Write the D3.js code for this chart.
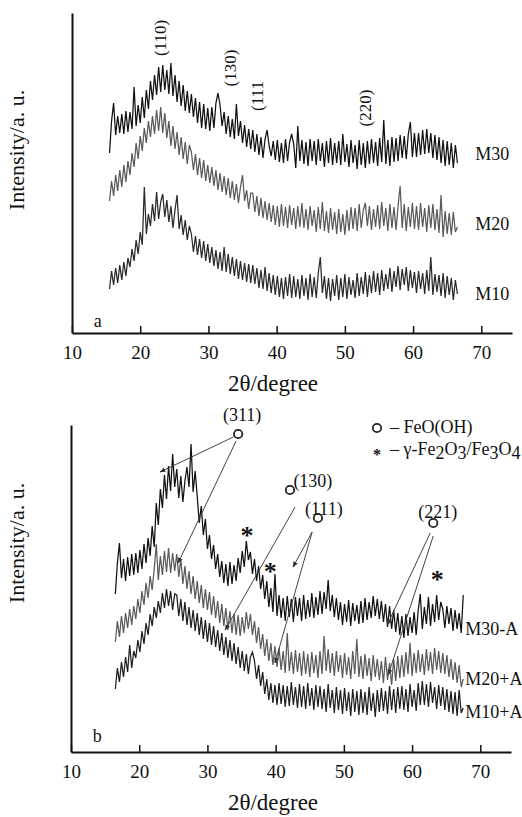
<!DOCTYPE html>
<html lang="en">
<head>
<meta charset="utf-8">
<title>XRD patterns a / b</title>
<script src="https://cdn.jsdelivr.net/npm/d3@7"></script>
<style>
body { margin: 0; background: #fff; }
svg text { fill: #111; }
.curve { fill: none; stroke-width: 1.25; stroke-linejoin: miter; }
.axis path { stroke: #111; stroke-width: 2; }
.axis line { stroke: #111; stroke-width: 1.5; }
.pointer { stroke: #444; stroke-width: 1; fill: none; }
</style>
</head>
<body>
<svg id="chart" width="522" height="817"></svg>
<script>
var FONT = '"Liberation Serif", "DejaVu Serif", "Noto Serif", "Times New Roman", Times, serif';

// ---- data (2theta grid: start + 0.3 deg steps) ----
var step = 0.3;
var startA = 15.5, startB = 16.5;
var xTicks = [10, 20, 30, 40, 50, 60, 70];

// panel a
var m30 = [
  180,212,230,198,217,200,219,199,222,201,
  221,204,246,207,228,210,236,215,243,224,
  252,233,258,238,266,241,268,243,263,239,
  270,237,258,231,252,227,248,222,242,220,
  239,216,235,210,231,205,229,204,225,202,
  226,205,230,240,228,207,221,199,217,196,
  214,194,229,197,212,190,208,186,204,184,
  203,181,199,178,196,175,194,203,187,177,
  192,173,193,171,190,170,194,172,191,199,
  189,165,207,172,193,169,191,167,194,172,
  192,168,194,172,190,166,192,170,195,168,
  190,170,192,168,199,171,189,166,193,170,
  188,164,193,168,190,165,192,169,194,170,
  191,167,195,171,213,169,193,167,196,171,
  195,172,198,175,197,174,199,211,176,200,
  176,200,178,203,179,204,180,200,175,198,
  173,196,170,193,167,192,168,190,165,188,
  170];
var m20 = [
  132,152,137,158,142,163,146,168,151,172,
  158,180,166,190,174,197,182,205,190,212,
  196,217,199,223,202,226,200,220,195,212,
  187,207,184,201,178,196,174,191,169,188,
  181,163,179,158,175,155,173,152,168,150,
  166,147,163,143,160,141,157,138,155,135,
  152,133,149,130,146,158,132,143,124,140,
  140,121,137,117,135,115,132,113,130,111,
  128,108,127,106,129,107,126,105,128,108,
  125,104,127,106,130,105,124,103,127,107,
  123,101,126,104,131,102,122,100,125,103,
  121,99,124,101,119,98,123,102,126,104,
  125,102,129,105,123,130,107,127,103,124,
  106,128,104,131,107,125,102,129,105,126,
  103,127,147,105,129,102,126,106,130,104,
  127,103,130,106,125,101,128,105,129,103,
  124,100,138,96,122,99,120,98,121,101,
  106];
var m10 = [
  44,62,48,65,50,68,53,71,57,75,
  66,84,72,93,79,101,88,146,99,119,
  107,129,112,141,114,131,139,116,133,111,
  127,105,123,138,104,118,98,113,93,107,
  99,81,97,78,94,75,92,72,89,70,
  86,67,83,64,81,62,86,61,79,59,
  76,57,74,54,72,53,70,51,69,50,
  68,49,65,45,63,44,66,42,60,40,
  58,38,57,36,55,34,56,37,59,35,
  57,36,54,34,58,37,55,33,59,36,
  56,35,60,76,40,57,34,55,32,54,
  37,58,33,55,36,59,34,56,38,53,
  35,60,37,56,39,61,36,58,40,62,
  41,60,38,63,42,59,44,65,41,62,
  46,67,43,64,48,66,42,63,45,61,
  40,62,44,60,39,63,42,76,38,59,
  41,58,37,60,35,57,38,55,33,53,
  39];

// panel b
var m30A = [
  158,189,209,174,193,171,195,176,198,177,
  199,179,202,183,208,189,214,196,226,205,
  249,227,263,244,277,253,286,261,298,265,
  283,254,276,250,271,285,265,308,260,281,
  256,229,246,217,233,203,217,193,207,183,
  198,175,191,169,188,166,190,168,187,171,
  194,179,201,185,211,192,200,178,193,171,
  186,163,177,153,171,145,164,140,178,136,
  157,134,154,131,156,135,153,130,155,136,
  154,131,157,133,152,135,159,134,155,137,
  161,138,160,143,172,141,157,135,154,132,
  150,127,148,130,152,126,149,131,147,128,
  151,129,154,132,150,134,156,136,153,133,
  151,130,148,125,146,123,142,120,139,117,
  136,114,138,116,135,119,140,117,142,158,
  123,145,128,155,126,148,130,157,132,150,
  143,124,146,128,144,121,142,123,139,119,
  157];
var m20A = [
  110,131,115,136,119,139,124,143,127,146,
  133,153,139,161,147,169,154,176,162,183,
  208,172,196,177,201,180,204,179,199,181,
  198,175,193,168,186,163,181,158,176,153,
  171,149,167,144,163,142,160,137,156,134,
  151,129,148,126,144,122,141,119,138,117,
  137,116,135,119,140,123,138,117,131,109,
  125,103,118,96,113,91,109,87,106,85,
  104,82,101,79,119,81,100,78,102,80,
  99,76,101,78,98,75,100,79,97,74,
  101,78,116,81,103,79,99,76,101,80,
  97,74,99,77,95,73,101,78,113,75,
  96,73,98,76,94,71,97,75,93,72,
  91,69,95,72,89,67,93,71,96,74,
  97,75,100,78,109,76,99,79,102,80,
  98,77,103,81,100,78,104,82,101,79,
  99,78,97,75,93,72,90,69,87,65,
  73];
var m10A = [
  63,84,70,90,75,95,80,107,84,101,
  94,112,100,121,108,129,117,138,126,145,
  134,151,139,159,144,163,146,161,142,158,
  157,136,153,131,150,127,145,124,142,121,
  139,117,135,113,132,110,129,107,126,105,
  122,101,119,97,115,94,112,91,109,88,
  105,84,101,81,98,78,95,100,91,73,
  87,66,80,58,73,52,69,49,67,47,
  69,48,67,45,66,46,70,47,65,44,
  68,45,66,43,69,46,64,42,67,45,
  66,43,63,40,68,44,62,39,65,42,
  62,38,64,41,60,36,63,40,61,37,
  63,39,60,37,65,41,59,35,62,40,
  64,41,61,38,66,42,63,39,65,43,
  66,42,63,40,68,45,62,41,69,47,
  71,47,68,45,70,49,65,43,67,46,
  65,42,63,40,61,38,60,36,62,39,
  44];

// peak labels, panel a (2theta, intensity)
var peaksA = [
  {t: "(110)", x: 22.9, y: 295},
  {t: "(130)", x: 33.2, y: 265},
  {t: "(111", x: 37.1, y: 237},
  {t: "(220)", x: 53.0, y: 225}
];
// panel b: FeO(OH) circles, hkl labels, pointers, spinel stars
var circlesB = [{x: 34.5, y: 318}, {x: 42.1, y: 262}, {x: 46.2, y: 234}, {x: 63.1, y: 229}];
var hklB = [
  {t: "(311)", x: 35.1, y: 331, a: "middle"},
  {t: "(130)", x: 42.6, y: 265, a: "start"},
  {t: "(111)", x: 44.3, y: 237, a: "start"},
  {t: "(221)", x: 60.9, y: 234, a: "start"}
];
var pointersB = [
  [33.8, 315, 23.05, 280],
  [34.2, 311, 25.7, 189],
  [42.85, 245, 32.6, 122],
  [45.35, 220, 42.55, 185],
  [45.35, 220, 39.9, 89],
  [62.66, 219, 56.35, 127],
  [63.1, 216, 56.5, 77]
];
var starsB = [{x: 35.8, y: 220}, {x: 39.2, y: 184}, {x: 63.7, y: 176}];

var svg = d3.select("#chart").style("font-family", FONT);

svg.append("defs").append("marker")
    .attr("id", "arr")
    .attr("viewBox", "0 0 10 10")
    .attr("refX", 9).attr("refY", 5)
    .attr("markerWidth", 6).attr("markerHeight", 6)
    .attr("orient", "auto")
  .append("path")
    .attr("d", "M0,1 L10,5 L0,9 z")
    .attr("fill", "#333");

function drawPanel(p) {
  var x = d3.scaleLinear().domain([10, 74.5]).range([p.left, p.left + 440]);
  var y = d3.scaleLinear().domain([0, p.ymax]).range([p.bottom, p.top]);
  var g = svg.append("g");

  p.series.forEach(function(s) {
    var line = d3.line()
        .x(function(d, i) { return x(p.start + i * step); })
        .y(function(d) { return y(d); });
    g.append("path")
        .attr("class", "curve")
        .attr("stroke", s.color)
        .attr("d", line(s.values));
    g.append("text")
        .attr("x", x(s.lx)).attr("y", y(s.ly))
        .style("font-size", "18px")
        .text(s.name);
  });

  var xa = g.append("g")
      .attr("class", "axis")
      .attr("transform", "translate(0," + p.bottom + ")")
      .call(d3.axisBottom(x).tickValues(xTicks).tickSize(-7).tickSizeOuter(0).tickPadding(13));
  xa.selectAll("text").style("font-size", "19px");
  g.append("g")
      .attr("class", "axis")
      .attr("transform", "translate(" + p.left + ",0)")
      .call(d3.axisLeft(y).tickValues([]).tickSizeOuter(0));

  g.append("text")
      .attr("x", x(13.2)).attr("y", y(p.tagY))
      .style("font-size", "18px")
      .text(p.tag);
  g.append("text")
      .attr("x", 273).attr("y", p.bottom + 58)
      .attr("text-anchor", "middle")
      .style("font-size", "23px")
      .text("2\u03B8/degree");
  g.append("text")
      .attr("transform", "translate(24," + p.mid + ") rotate(-90)")
      .attr("text-anchor", "middle")
      .style("font-size", "22px")
      .text("Intensity/a. u.");
  return {x: x, y: y, g: g};
}

// ---- panel a ----
var A = drawPanel({
  left: 72, top: 13, bottom: 333, ymax: 320, start: startA, mid: 150,
  tag: "a", tagY: 6,
  series: [
    {name: "M30", values: m30, color: "#111", lx: 69.1, ly: 173},
    {name: "M20", values: m20, color: "#5a5a5a", lx: 69.1, ly: 103},
    {name: "M10", values: m10, color: "#2a2a2a", lx: 69.1, ly: 33}
  ]
});
A.g.selectAll(".peak").data(peaksA).enter().append("text")
    .attr("transform", function(d) { return "translate(" + A.x(d.x) + "," + A.y(d.y) + ") rotate(-90)"; })
    .attr("text-anchor", "middle")
    .attr("dy", "0.35em")
    .style("font-size", "17px")
    .text(function(d) { return d.t; });

// ---- panel b ----
var B = drawPanel({
  left: 71, top: 425, bottom: 752, ymax: 327, start: startB, mid: 543,
  tag: "b", tagY: 10,
  series: [
    {name: "M30-A", values: m30A, color: "#111", lx: 67.8, ly: 117},
    {name: "M20+A", values: m20A, color: "#5a5a5a", lx: 67.8, ly: 67},
    {name: "M10+A", values: m10A, color: "#1e1e1e", lx: 67.8, ly: 34}
  ]
});
B.g.selectAll(".ptr").data(pointersB).enter().append("line")
    .attr("class", "pointer")
    .attr("x1", function(d) { return B.x(d[0]); })
    .attr("y1", function(d) { return B.y(d[1]); })
    .attr("x2", function(d) { return B.x(d[2]); })
    .attr("y2", function(d) { return B.y(d[3]); })
    .attr("marker-end", "url(#arr)");
B.g.selectAll(".ring").data(circlesB).enter().append("circle")
    .attr("cx", function(d) { return B.x(d.x); })
    .attr("cy", function(d) { return B.y(d.y); })
    .attr("r", 4.2)
    .attr("fill", "#fff")
    .attr("stroke", "#222")
    .attr("stroke-width", 1.8);
B.g.selectAll(".hkl").data(hklB).enter().append("text")
    .attr("x", function(d) { return B.x(d.x); })
    .attr("y", function(d) { return B.y(d.y); })
    .attr("text-anchor", function(d) { return d.a; })
    .style("font-size", "18px")
    .text(function(d) { return d.t; });
B.g.selectAll(".star").data(starsB).enter().append("text")
    .attr("x", function(d) { return B.x(d.x); })
    .attr("y", function(d) { return B.y(d.y); })
    .attr("dy", "0.47em")
    .attr("text-anchor", "middle")
    .style("font-size", "26px")
    .style("font-weight", "bold")
    .text("*");

// legend
var leg = B.g.append("g");
leg.append("circle").attr("cx", 377).attr("cy", 428).attr("r", 4.2)
    .attr("fill", "none").attr("stroke", "#222").attr("stroke-width", 1.8);
leg.append("text").attr("x", 390).attr("y", 433).style("font-size", "18px").text("\u2013 FeO(OH)");
leg.append("text").attr("x", 377).attr("y", 452).attr("dy", "0.47em")
    .attr("text-anchor", "middle").style("font-size", "16px").style("font-weight", "bold").text("*");
var t2 = leg.append("text").attr("x", 390).attr("y", 455).style("font-size", "18px");
t2.append("tspan").text("\u2013 \u03B3-Fe");
t2.append("tspan").attr("dy", 4).text("2");
t2.append("tspan").attr("dy", -4).text("O");
t2.append("tspan").attr("dy", 4).text("3");
t2.append("tspan").attr("dy", -4).text("/Fe");
t2.append("tspan").attr("dy", 4).text("3");
t2.append("tspan").attr("dy", -4).text("O");
t2.append("tspan").attr("dy", 4).text("4");

// inline font on every label so the axis defaults cannot override it
svg.selectAll("text").style("font-family", FONT);
</script>
</body>
</html>
